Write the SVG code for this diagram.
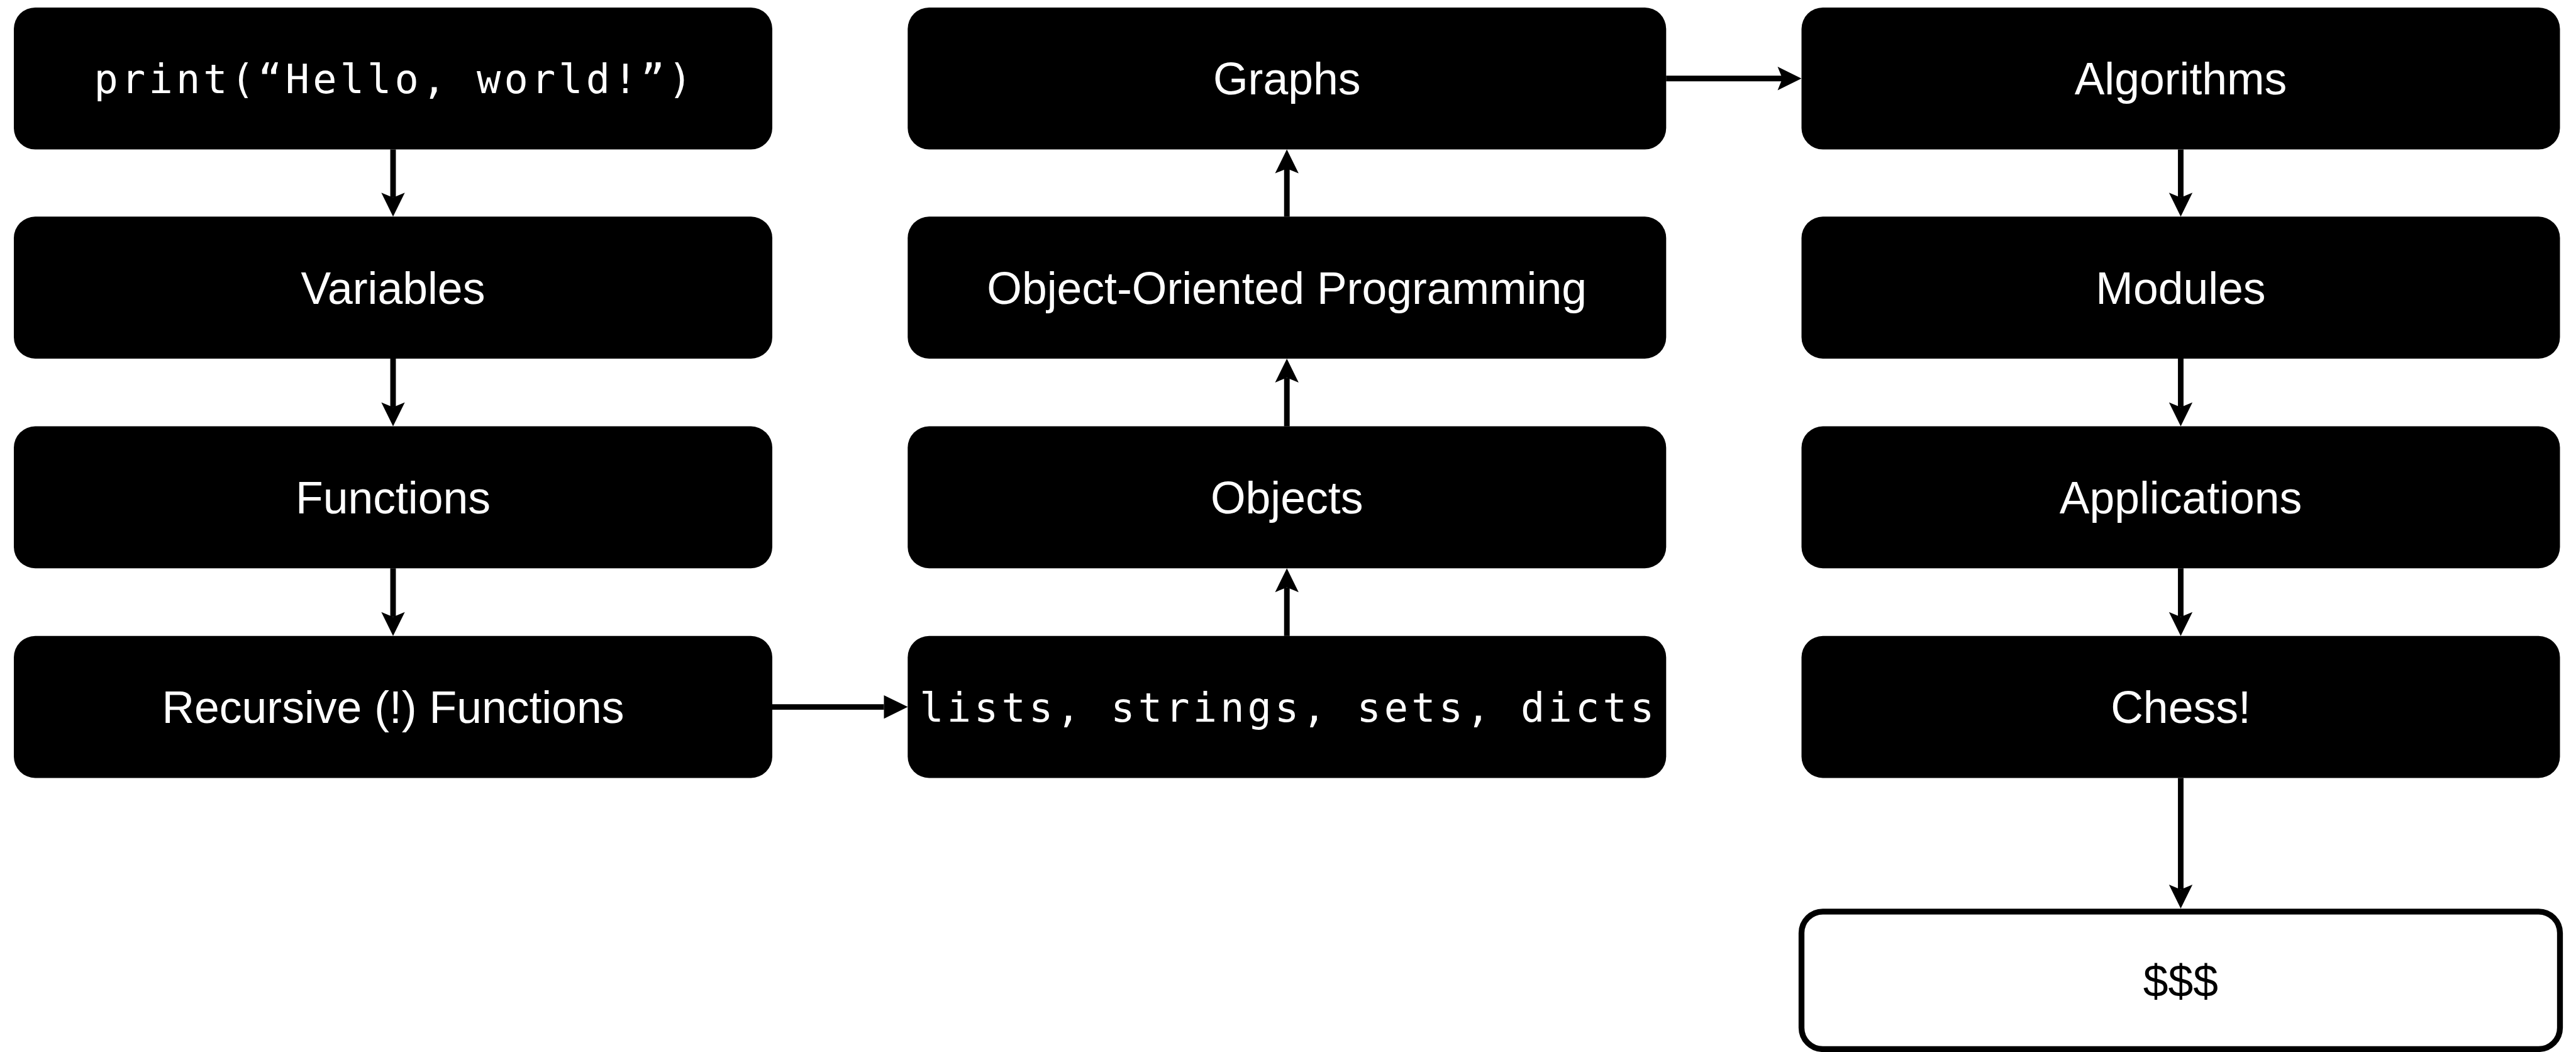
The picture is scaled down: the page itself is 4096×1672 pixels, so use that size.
<svg xmlns="http://www.w3.org/2000/svg" width="4096" height="1672" viewBox="0 0 4096 1672">
<style>
.box{fill:#000}
.lbl{fill:#fff;font-family:"Liberation Sans",Arial,sans-serif;font-size:71.5px;text-anchor:middle}
.mono{fill:#fff;font-family:"DejaVu Sans Mono","Liberation Mono",monospace;font-size:63.6px;text-anchor:middle}
.edge{stroke:#000;stroke-width:8.9;fill:none}
</style>
<defs>
<marker id="ah" markerUnits="userSpaceOnUse" markerWidth="40" markerHeight="40" refX="7.6" refY="0" orient="auto" overflow="visible"><path d="M0,-18.7 L38,0 L0,18.7 L7.6,0 Z" fill="#000"/></marker>
<marker id="tri" markerUnits="userSpaceOnUse" markerWidth="40" markerHeight="40" refX="0" refY="0" orient="auto" overflow="visible"><path d="M0,-18.7 L38,0 L0,18.7 Z" fill="#000"/></marker>
</defs>
<rect width="4096" height="1672" fill="#fff"/>
<g id="connectors">
<line class="edge" x1="625" y1="237.5" x2="625" y2="313.9" marker-end="url(#ah)"/>
<line class="edge" x1="625" y1="569.9" x2="625" y2="647.2" marker-end="url(#ah)"/>
<line class="edge" x1="625" y1="903.2" x2="625" y2="980.4" marker-end="url(#ah)"/>
<line class="edge" x1="1228" y1="1123.6" x2="1405.5" y2="1123.6" marker-end="url(#tri)"/>
<line class="edge" x1="2046.2" y1="1010.8" x2="2046.2" y2="933.6" marker-end="url(#ah)"/>
<line class="edge" x1="2046.2" y1="677.6" x2="2046.2" y2="600.3" marker-end="url(#ah)"/>
<line class="edge" x1="2046.2" y1="344.3" x2="2046.2" y2="267.9" marker-end="url(#ah)"/>
<line class="edge" x1="2649.2" y1="124.7" x2="2834.1" y2="124.7" marker-end="url(#ah)"/>
<line class="edge" x1="3467.5" y1="237.5" x2="3467.5" y2="313.9" marker-end="url(#ah)"/>
<line class="edge" x1="3467.5" y1="569.9" x2="3467.5" y2="647.2" marker-end="url(#ah)"/>
<line class="edge" x1="3467.5" y1="903.2" x2="3467.5" y2="980.4" marker-end="url(#ah)"/>
<line class="edge" x1="3467.5" y1="1236.4" x2="3467.5" y2="1413.7" marker-end="url(#ah)"/>
</g>
<g id="n_print"><rect class="box" x="22" y="11.9" width="1206" height="225.6" rx="34"/><text class="mono" x="625" y="148.4" textLength="951" lengthAdjust="spacing">print(“Hello, world!”)</text></g>
<g id="n_variables"><rect class="box" x="22" y="344.3" width="1206" height="225.6" rx="34"/><text class="lbl" x="625" y="482.7">Variables</text></g>
<g id="n_functions"><rect class="box" x="22" y="677.6" width="1206" height="225.6" rx="34"/><text class="lbl" x="625" y="815.9">Functions</text></g>
<g id="n_recursive"><rect class="box" x="22" y="1010.8" width="1206" height="225.6" rx="34"/><text class="lbl" x="625" y="1149.2">Recursive (!) Functions</text></g>
<g id="n_lists"><rect class="box" x="1443.3" y="1010.8" width="1206" height="225.6" rx="34"/><text class="mono" x="2046.2" y="1147.3" textLength="1168" lengthAdjust="spacing">lists, strings, sets, dicts</text></g>
<g id="n_objects"><rect class="box" x="1443.3" y="677.6" width="1206" height="225.6" rx="34"/><text class="lbl" x="2046.2" y="815.9">Objects</text></g>
<g id="n_oop"><rect class="box" x="1443.3" y="344.3" width="1206" height="225.6" rx="34"/><text class="lbl" x="2046.2" y="482.7">Object-Oriented Programming</text></g>
<g id="n_graphs"><rect class="box" x="1443.3" y="11.9" width="1206" height="225.6" rx="34"/><text class="lbl" x="2046.2" y="150.3">Graphs</text></g>
<g id="n_algorithms"><rect class="box" x="2864.5" y="11.9" width="1206" height="225.6" rx="34"/><text class="lbl" x="3467.5" y="150.3">Algorithms</text></g>
<g id="n_modules"><rect class="box" x="2864.5" y="344.3" width="1206" height="225.6" rx="34"/><text class="lbl" x="3467.5" y="482.7">Modules</text></g>
<g id="n_applications"><rect class="box" x="2864.5" y="677.6" width="1206" height="225.6" rx="34"/><text class="lbl" x="3467.5" y="815.9">Applications</text></g>
<g id="n_chess"><rect class="box" x="2864.5" y="1010.8" width="1206" height="225.6" rx="34"/><text class="lbl" x="3467.5" y="1149.2">Chess!</text></g>
<g id="n_money"><rect x="2864.5" y="1448.8" width="1206" height="218.6" rx="34" fill="#fff" stroke="#000" stroke-width="9.3"/><text x="3467.5" y="1583.5" style="fill:#000;font-family:'Liberation Sans',Arial,sans-serif;font-size:71.5px;text-anchor:middle">$$$</text></g>
</svg>
